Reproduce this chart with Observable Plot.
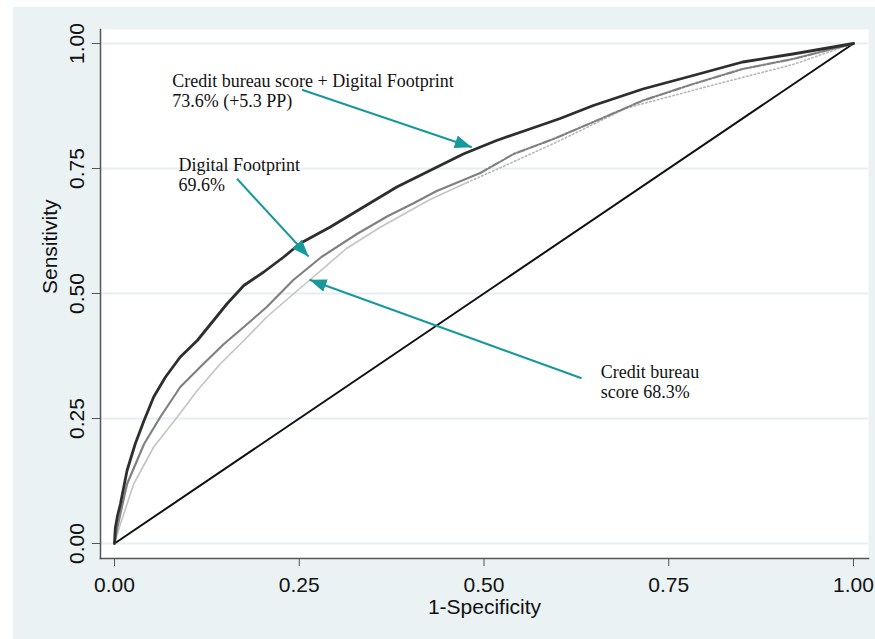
<!DOCTYPE html>
<html><head><meta charset="utf-8">
<script src="https://cdn.jsdelivr.net/npm/d3@7"></script>
<script src="https://cdn.jsdelivr.net/npm/@observablehq/plot@0.6"></script>
<style>
html,body{margin:0;padding:0;background:#fff;width:875px;height:639px;overflow:hidden}
#chart{position:absolute;left:13px;top:7px;width:862px;height:632px;background:#eaf2f3}
</style></head><body><div id="chart"></div>
<script>
// ROC curve: Credit bureau score + Digital Footprint (AUC 73.6%)
const comboFPR = [0, 0.001, 0.004, 0.008, 0.017, 0.028, 0.040, 0.053, 0.069, 0.089, 0.112, 0.134, 0.152, 0.175, 0.202, 0.229, 0.251, 0.292, 0.337, 0.382, 0.427, 0.472, 0.517, 0.562, 0.603, 0.648, 0.715, 0.783, 0.850, 0.918, 1];
const comboTPR = [0, 0.030, 0.055, 0.079, 0.146, 0.199, 0.246, 0.293, 0.333, 0.373, 0.406, 0.446, 0.479, 0.516, 0.543, 0.573, 0.600, 0.633, 0.673, 0.713, 0.746, 0.779, 0.806, 0.829, 0.850, 0.876, 0.909, 0.936, 0.963, 0.979, 1];
// ROC curve: Digital Footprint (AUC 69.6%)
const digitalFPR = [0, 0.004, 0.017, 0.040, 0.062, 0.089, 0.116, 0.148, 0.175, 0.206, 0.242, 0.280, 0.328, 0.370, 0.404, 0.436, 0.495, 0.540, 0.594, 0.648, 0.715, 0.783, 0.850, 0.918, 1];
const digitalTPR = [0, 0.033, 0.119, 0.199, 0.253, 0.313, 0.353, 0.399, 0.433, 0.473, 0.527, 0.573, 0.619, 0.655, 0.680, 0.705, 0.741, 0.779, 0.809, 0.843, 0.886, 0.919, 0.949, 0.969, 1];
// ROC curve: Credit bureau score (AUC 68.3%)
const bureauFPR = [0, 0.008, 0.026, 0.053, 0.085, 0.112, 0.143, 0.175, 0.206, 0.242, 0.269, 0.314, 0.359, 0.427, 0.477, 0.517, 0.603, 0.693, 0.805, 0.918, 1];
const bureauTPR = [0, 0.039, 0.119, 0.193, 0.253, 0.306, 0.359, 0.406, 0.453, 0.499, 0.533, 0.590, 0.632, 0.688, 0.722, 0.748, 0.806, 0.871, 0.915, 0.958, 1];
// reference (chance) line
const chanceFPR = [0, 1];
const chanceTPR = [0, 1];
// axis ticks
const tickValues = [0, 0.25, 0.5, 0.75, 1];
const tickLabels = ["0.00", "0.25", "0.50", "0.75", "1.00"];
// annotations
const labelText = ["Credit bureau score + Digital Footprint\n73.6% (+5.3 PP)", "Digital Footprint\n69.6%", "Credit bureau\nscore 68.3%"];
const labelX = [0.078, 0.0865, 0.658];
const labelY = [0.906, 0.738, 0.324];
const arrowFromX = [0.2536, 0.1658, 0.632];
const arrowFromY = [0.9074, 0.7294, 0.3306];
const arrowToX = [0.4834, 0.2626, 0.2639];
const arrowToY = [0.7926, 0.574, 0.5274];

const rows = (xs, ys) => xs.map((x, i) => ({x, y: ys[i]}));
const combo = rows(comboFPR, comboTPR);
const digital = rows(digitalFPR, digitalTPR);
const bureau = rows(bureauFPR, bureauTPR);
const chance = rows(chanceFPR, chanceTPR);
const labels = labelText.map((t, i) => ({t, x: labelX[i], y: labelY[i]}));
const arrows = arrowFromX.map((x1, i) => ({x1, y1: arrowFromY[i], x2: arrowToX[i], y2: arrowToY[i]}));

const teal = "#17999b";
const NS = "http://www.w3.org/2000/svg";
function arrowHead(color, context) {
  const doc = (context && context.document) || document;
  const m = doc.createElementNS(NS, "marker");
  m.setAttribute("viewBox", "0 -6.5 17 13");
  m.setAttribute("markerUnits", "userSpaceOnUse");
  m.setAttribute("markerWidth", "17");
  m.setAttribute("markerHeight", "13");
  m.setAttribute("refX", "17");
  m.setAttribute("refY", "0");
  m.setAttribute("orient", "auto");
  const p = doc.createElementNS(NS, "path");
  p.setAttribute("d", "M0,-6.5L17,0L0,6.5Z");
  p.setAttribute("fill", color);
  p.setAttribute("stroke", "none");
  m.appendChild(p);
  return m;
}

const fmt = d => tickLabels[tickValues.indexOf(d)];

const chart = Plot.plot({
  width: 862,
  height: 632,
  marginLeft: 87,
  marginRight: 7,
  marginTop: 22,
  marginBottom: 81,
  style: {fontFamily: "Liberation Sans, Arial, sans-serif", background: "transparent", color: "#111", overflow: "visible"},
  x: {domain: [0, 1], insetLeft: 14, insetRight: 15},
  y: {domain: [0, 1], insetTop: 14, insetBottom: 15},
  marks: [
    Plot.frame({fill: "white", stroke: "none"}),
    Plot.gridY(tickValues, {stroke: "#e6eef0", strokeOpacity: 1, strokeWidth: 2}),
    Plot.frame({anchor: "left", stroke: "#555", strokeWidth: 1.5}),
    Plot.frame({anchor: "bottom", stroke: "#555", strokeWidth: 1.5}),
    Plot.axisY({ticks: tickValues, tickFormat: fmt, tickRotate: -90, tickSize: 8, tickPadding: 9, fontSize: 21, stroke: "#555", label: null}),
    Plot.axisX({ticks: tickValues, tickFormat: fmt, tickSize: 8, tickPadding: 11, fontSize: 21, stroke: "#555", label: null}),
    Plot.text(["1-Specificity"], {frameAnchor: "bottom", dy: 49, fontSize: 21, lineAnchor: "middle", fill: "#111"}),
    Plot.text(["Sensitivity"], {frameAnchor: "left", dx: -50, rotate: -90, fontSize: 21, lineAnchor: "middle", fill: "#111"}),
    Plot.line(chance, {x: "x", y: "y", stroke: "#111", strokeWidth: 2}),
    Plot.line(bureau, {filter: d => d.x <= 0.477, x: "x", y: "y", stroke: "#c4c4c4", strokeWidth: 1.6}),
    Plot.line(bureau, {filter: d => d.x >= 0.477, x: "x", y: "y", stroke: "#b8b8b8", strokeWidth: 1.6, strokeDasharray: "1.5,2.5"}),
    Plot.line(digital, {filter: d => d.x <= 0.495, x: "x", y: "y", stroke: "#808080", strokeWidth: 2.2}),
    Plot.line(digital, {filter: d => d.x >= 0.495, x: "x", y: "y", stroke: "#808080", strokeWidth: 2.2, strokeDasharray: "8,2,2,2"}),
    Plot.line(combo, {x: "x", y: "y", stroke: "#2e2e2e", strokeWidth: 2.8}),
    Plot.link(arrows, {x1: "x1", y1: "y1", x2: "x2", y2: "y2", stroke: teal, strokeWidth: 2, markerEnd: arrowHead}),
    Plot.text(labels, {x: "x", y: "y", text: "t", textAnchor: "start", lineAnchor: "middle", lineHeight: 1.1, fontSize: 18, fontFamily: "Liberation Serif, Times New Roman, serif", fill: "#111"})
  ]
});
document.getElementById("chart").appendChild(chart);
</script>
</body></html>
